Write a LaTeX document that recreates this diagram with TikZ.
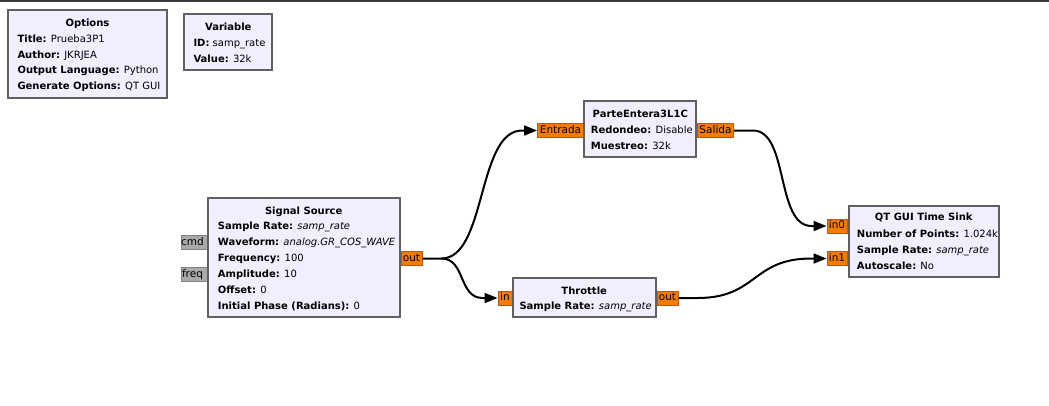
\documentclass[tikz,border=0pt]{standalone}
\usepackage{fontspec}
\setmainfont{DejaVu Sans}
\usetikzlibrary{arrows.meta,calc}
\definecolor{blockfill}{RGB}{240,238,255}
\definecolor{blockline}{RGB}{96,96,96}
\definecolor{portfill}{RGB}{242,124,0}
\definecolor{portline}{RGB}{190,84,30}
\definecolor{msgfill}{RGB}{170,170,170}
\definecolor{msgline}{RGB}{128,128,128}
\definecolor{topband}{RGB}{60,60,60}
\newcommand\prm[5]{\node[prm] (#1) at (#2,#3) {\textbf{#4:} #5};}
\begin{document}
\begin{tikzpicture}[x=1pt,y=-1pt,
  blk/.style={draw=blockline,line width=2pt,fill=blockfill,inner sep=0pt,rectangle},
  port/.style={draw=portline,line width=1pt,fill=portfill,inner sep=0pt,rectangle,
    font=\fontsize{10.5}{12}\selectfont,text height=7.8pt,text depth=2pt},
  msgport/.style={port,draw=msgline,fill=msgfill},
  ttl/.style={anchor=base,inner sep=0pt,font=\fontsize{10}{12}\selectfont\bfseries},
  prm/.style={anchor=base west,inner sep=0pt,font=\fontsize{10}{12}\selectfont},
  conn/.style={line width=2pt,-{Triangle[length=13pt,width=10pt]}}]
\useasboundingbox (0,0) rectangle (1049,405);
\fill[topband] (0,0) rectangle (1049,2);

% ports
\node[msgport,minimum width=26,minimum height=14] (sscmd) at (194,242.5) {cmd\hspace*{3pt}};
\node[msgport,minimum width=26,minimum height=14] (ssfreq) at (194,274.5) {freq\hspace*{3pt}};
\node[port,minimum width=21,minimum height=14] (ssout) at (411.5,258.5) {out};
\node[port,minimum width=46,minimum height=14] (pein) at (560.5,130.5) {Entrada};
\node[port,minimum width=36,minimum height=14] (peout) at (715.5,130.5) {Salida};
\node[port,minimum width=14,minimum height=14] (thin) at (505,298) {in};
\node[port,minimum width=21,minimum height=14] (thout) at (667.5,298) {out};
\node[port,minimum width=20,minimum height=14] (skin0) at (837,226) {in0};
\node[port,minimum width=20,minimum height=14] (skin1) at (837,258.5) {in1};

% blocks
\node[blk,minimum width=159.6,minimum height=88] (opt) at (87.5,54.3) {};
\node[blk,minimum width=88,minimum height=55.7] (var) at (228.3,42.2) {};
\node[blk,minimum width=192,minimum height=119.6] (ss) at (303.7,257.5) {};
\node[blk,minimum width=112,minimum height=56.3] (pe) at (640.3,129.2) {};
\node[blk,minimum width=143,minimum height=38.4] (th) at (584.2,297.5) {};
\node[blk,minimum width=150.3,minimum height=71.3] (sk) at (923.8,241.7) {};

% texts
\node[ttl] (optT) at (87.5,26.7) {Options};
\prm{opt1}{17.3}{42.7}{Title}{Prueba3P1}
\prm{opt2}{17.3}{58.3}{Author}{JKRJEA}
\prm{opt3}{17.3}{73.9}{Output Language}{Python}
\prm{opt4}{17.3}{89.3}{Generate Options}{QT GUI}

\node[ttl] (varT) at (228.3,30) {Variable};
\prm{var1}{193.3}{46}{ID}{samp\_rate}
\prm{var2}{193.3}{62.3}{Value}{32k}

\node[ttl] (ssT) at (303.7,214) {Signal Source};
\prm{ss1}{217.7}{229.6}{Sample Rate}{\textit{samp\_rate}}
\prm{ss2}{217.7}{245.6}{Waveform}{\textit{analog.GR\_COS\_WAVE}}
\prm{ss3}{217.7}{261.6}{Frequency}{100}
\prm{ss4}{217.7}{277.5}{Amplitude}{10}
\prm{ss5}{217.7}{293.4}{Offset}{0}
\prm{ss6}{217.7}{309.3}{Initial Phase (Radians)}{0}

\node[ttl] (peT) at (640.3,117.7) {ParteEntera3L1C};
\prm{pe1}{590.7}{133.5}{Redondeo}{Disable}
\prm{pe2}{590.7}{149.3}{Muestreo}{32k}

\node[ttl] (thT) at (584.2,294) {Throttle};
\prm{th1}{519.3}{309.5}{Sample Rate}{\textit{samp\_rate}}

\node[ttl] (skT) at (923.8,220.7) {QT GUI Time Sink};
\prm{sk1}{856.7}{237}{Number of Points}{1.024k}
\prm{sk2}{856.7}{253.2}{Sample Rate}{\textit{samp\_rate}}
\prm{sk3}{856.7}{269.3}{Autoscale}{No}

% connections
\draw[conn] (ssout.east) -- ++(19,0) coordinate (br)
  .. controls +(45,0) and +(-45,0) .. ($(pein.west)+(-15,0)$) -- (pein.west);
\draw[conn] (br) .. controls +(24,0) and +(-24,0) .. ($(thin.west)+(-15,0)$) -- (thin.west);
\draw[conn] (peout.east) -- ++(19,0)
  .. controls +(36,0) and +(-36,0) .. ($(skin0.west)+(-15,0)$) -- (skin0.west);
\draw[conn] (thout.east) -- ++(19,0)
  .. controls +(60,0) and +(-60,0) .. ($(skin1.west)+(-15,0)$) -- (skin1.west);
\end{tikzpicture}
\end{document}
